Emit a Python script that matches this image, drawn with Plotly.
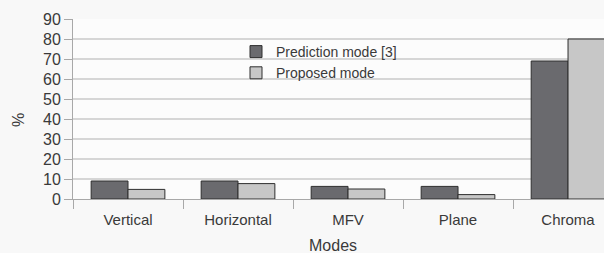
import plotly.graph_objects as go

modes = ["Vertical", "Horizontal", "MFV", "Plane", "Chroma"]
prediction_mode = [9, 9, 6.3, 6.3, 69]
proposed_mode = [4.8, 7.7, 5, 2.2, 80]
y_ticks = [0, 10, 20, 30, 40, 50, 60, 70, 80, 90]

W, H = 604, 253
L, R, T, B = 73, 0, 19, 54
pw = W - L - R
ph = H - T - B

def px(x):
    return (x - L) / pw

def py(y):
    return (H - B - y) / ph

font = "Liberation Sans, Arial, sans-serif"
txt = "#3a3a3a"

fig = go.Figure()
fig.add_trace(go.Bar(x=modes, y=prediction_mode, name="Prediction mode [3]",
                     marker=dict(color="#6a6a6e", line=dict(color="#2e2e2e", width=1))))
fig.add_trace(go.Bar(x=modes, y=proposed_mode, name="Proposed mode",
                     marker=dict(color="#c7c7c7", line=dict(color="#2e2e2e", width=1))))

fig.update_layout(
    width=W, height=H,
    margin=dict(l=L, r=R, t=T, b=B),
    paper_bgcolor="#f8f8f8",
    plot_bgcolor="#fcfcfc",
    barmode="group",
    bargap=0.33,
    bargroupgap=0,
    font=dict(family=font, size=15, color=txt),
    legend=dict(x=px(236), y=py(36), xanchor="left", yanchor="top",
                bgcolor="rgba(0,0,0,0)", font=dict(size=14, color=txt),
                tracegroupgap=0),
    xaxis=dict(range=[-0.5, 4.327], tickson="boundaries", ticks="outside", ticklen=9,
               tickcolor="#a8a8a8", tickwidth=1, showline=True, linecolor="#a8a8a8",
               linewidth=1, showgrid=False, tickfont=dict(size=15, color=txt),
               ticklabelstandoff=7),
    yaxis=dict(range=[0, 90], tickvals=y_ticks, ticks="outside", ticklen=8,
               tickcolor="#a8a8a8", showline=True, linecolor="#a8a8a8", linewidth=1,
               gridcolor="#d6d6d6", gridwidth=1.5, zeroline=False,
               tickfont=dict(size=16, color=txt)),
    annotations=[
        dict(text="%", x=px(18), y=py(120), xref="paper", yref="paper",
             xanchor="center", yanchor="middle",
             showarrow=False, textangle=-90, font=dict(size=16, color=txt)),
        dict(text="Modes", x=px(333), y=py(245), xref="paper", yref="paper",
             xanchor="center", yanchor="middle",
             showarrow=False, font=dict(size=16, color=txt)),
    ],
)

fig.write_html("out.html", config={"displayModeBar": False},
               post_script="document.body.style.margin='0';document.body.style.overflow='hidden';")
